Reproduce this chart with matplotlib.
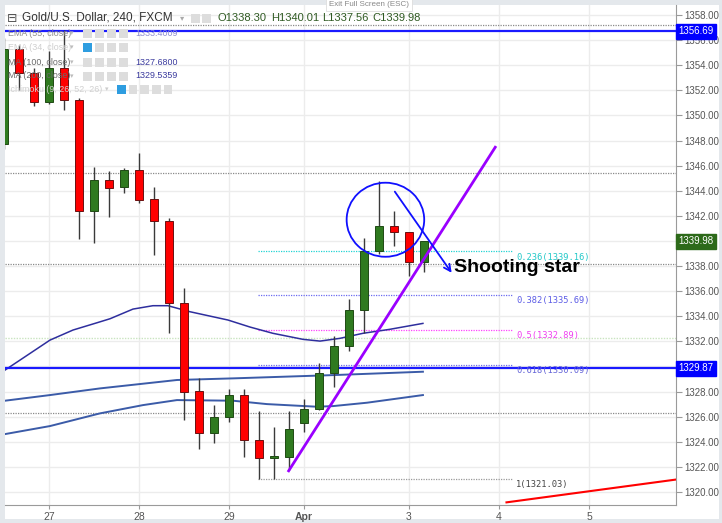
import matplotlib
matplotlib.use('Agg')
import matplotlib.pyplot as plt
from matplotlib.patches import Ellipse, Rectangle
from matplotlib.ticker import FuncFormatter

plt.rcParams['font.family'] = ['Liberation Sans', 'DejaVu Sans']

# candles (4h bars), x = bar index
bars = list(range(-3, 26))
opens = [1347.72, 1355.27, 1353.40, 1351.04, 1353.75, 1351.23, 1342.38, 1344.83, 1344.27, 1345.65,
         1343.31, 1341.59, 1335.08, 1328.04, 1324.67, 1326.00, 1327.75, 1324.13, 1322.73, 1322.80,
         1325.51, 1326.61, 1329.45, 1331.65, 1334.49, 1339.20, 1341.19, 1340.71, 1338.30]
highs = [1356.20, 1355.60, 1353.80, 1355.13, 1356.80, 1351.35, 1345.91, 1345.57, 1345.78, 1346.98,
         1344.27, 1341.80, 1336.22, 1329.05, 1326.92, 1328.18, 1328.18, 1326.45, 1325.20, 1326.45,
         1327.40, 1330.25, 1332.42, 1335.35, 1340.21, 1344.80, 1342.41, 1340.75, 1340.01]
lows = [1347.30, 1352.02, 1350.77, 1350.95, 1350.43, 1340.15, 1339.83, 1341.93, 1343.79, 1343.04,
        1338.88, 1332.64, 1325.73, 1323.39, 1323.92, 1325.59, 1322.80, 1321.05, 1321.03, 1321.74,
        1324.80, 1326.50, 1328.38, 1331.25, 1332.64, 1338.93, 1339.62, 1337.23, 1337.56]
closes = [1355.29, 1353.35, 1351.09, 1353.75, 1351.20, 1342.38, 1344.83, 1344.24, 1345.65, 1343.26,
          1341.61, 1335.08, 1327.96, 1324.67, 1326.00, 1327.75, 1324.13, 1322.73, 1322.80, 1325.04,
          1326.61, 1329.45, 1331.63, 1334.49, 1339.22, 1341.19, 1340.71, 1338.29, 1339.98]

# moving averages
ema55_x = [-2.93, 0.07, 1.6, 3.2, 4.07, 5.6, 6.93, 7.93, 9.4, 10.93, 11.93, 13.4, 14.93, 16.93, 18.07, 19.4, 20.93, 22.73, 24.93]
ema55_y = [1329.71, 1332.10, 1332.90, 1333.48, 1333.80, 1334.57, 1334.84, 1334.84, 1334.36, 1333.96,
           1333.70, 1333.14, 1332.64, 1332.16, 1332.02, 1332.24, 1332.64, 1332.96, 1333.43]
ma200_x = [-2.93, 0.07, 3.4, 8.53, 12.27, 18.93, 24.93]
ma200_y = [1327.27, 1327.72, 1328.25, 1328.92, 1329.05, 1329.31, 1329.58]
ma100_x = [-2.93, 0.07, 3.4, 6.27, 8.53, 12.27, 14.53, 17.87, 18.93, 21.2, 24.93]
ma100_y = [1324.61, 1325.25, 1326.26, 1326.92, 1327.32, 1327.27, 1327.00, 1326.79, 1326.84, 1327.11, 1327.72]

# horizontal levels
blue_levels = [1356.69, 1329.87]
grey_dotted = [1357.24, 1345.44, 1338.14, 1326.26]
green_dotted = [1332.24]
fib_ratios = ['0.236', '0.382', '0.5', '0.618', '1']
fib_prices = [1339.16, 1335.69, 1332.89, 1330.09, 1321.03]
fib_colors = ['#22d4d4', '#6a6af0', '#ff44ff', '#6a6af0', '#9a9a9a']
fib_text_colors = ['#22c8c8', '#5c5ce6', '#f040f0', '#6464d8', '#444444']
fib_start, fib_end = 13.93, 30.87

# drawings
trend_x = [15.93, 29.8]
trend_y = [1321.59, 1347.56]
red_x = [30.5, 42.5]
red_y = [1319.17, 1321.10]
circle_center = (22.43, 1341.69)
arrow_from = (22.95, 1344.11)
arrow_to = (26.95, 1337.28)

tick_pos = [0, 6, 12, 17, 24, 30, 36]
tick_labels = ['27', '28', '29', 'Apr', '3', '4', '5']
price_ticks = list(range(1320, 1359, 2))
hidden_ticks = [1330, 1340]   # covered by the price boxes

W, H = 722, 523
fig = plt.figure(figsize=(W / 100, H / 100), dpi=100, facecolor='#e4e8ec')


def fx(x):
    return x / W


def fy(y):
    return 1 - y / H


fig.patches.append(Rectangle((fx(5), fy(519)), fx(714), 514 / H, transform=fig.transFigure,
                             facecolor='white', edgecolor='none', zorder=-5))

ax = fig.add_axes([fx(5), fy(505), fx(671), 500 / H])
ax.set_facecolor('white')
ax.set_xlim(-2.93, 41.8)
ax.set_ylim(1318.96, 1358.80)

for s in ['top', 'left']:
    ax.spines[s].set_visible(False)
for s in ['right', 'bottom']:
    ax.spines[s].set_color('#9a9a9a')

ax.yaxis.tick_right()
ax.set_yticks(price_ticks)
ax.yaxis.set_major_formatter(FuncFormatter(lambda v, p: '' if round(v) in hidden_ticks else '%.2f' % v))
ax.tick_params(axis='y', labelsize=7, colors='#9a9a9a', labelcolor='#555555', length=4, pad=2)
ax.set_xticks(tick_pos)
ax.set_xticklabels(tick_labels)
ax.tick_params(axis='x', labelsize=7.5, colors='#9a9a9a', labelcolor='#555555', length=3, pad=2)
ax.get_xticklabels()[3].set_fontweight('bold')
ax.grid(True, color='#ececec', lw=1)
ax.set_axisbelow(True)

for lv in grey_dotted:
    ax.axhline(lv, color='#8a8a8a', lw=0.9, ls=(0, (1, 1)), zorder=1)
for lv in green_dotted:
    ax.axhline(lv, color='#c9e4c0', lw=1, ls=(0, (1, 1)), zorder=1)

for r, p, c, tc in zip(fib_ratios, fib_prices, fib_colors, fib_text_colors):
    ax.plot([fib_start, fib_end], [p, p], color=c, lw=0.9, ls=(0, (1, 1)), zorder=1)
    ax.annotate('%s(%.2f)' % (r, p), (fib_end, p), xytext=(3, -4), textcoords='offset points',
                fontsize=6.3, family='DejaVu Sans Mono', color=tc, va='center', ha='left')

ax.plot(ema55_x, ema55_y, color='#2e2e9e', lw=1.1, zorder=2)
ax.plot(ma200_x, ma200_y, color='#3b5ba8', lw=1.4, zorder=2)
ax.plot(ma100_x, ma100_y, color='#3b5ba8', lw=1.4, zorder=2)

for lv in blue_levels:
    ax.axhline(lv, color='#1a1aff', lw=1.6, zorder=2)

# candles
for i, o, h, l, c in zip(bars, opens, highs, lows, closes):
    up = c >= o
    ax.vlines(i, l, h, color='#3a3a3a', lw=1, zorder=3)
    body = max(abs(c - o), 0.12)
    ax.bar(i, body, bottom=min(o, c), width=0.57,
           color='#2f7a1f' if up else '#ff0000',
           edgecolor='#1f4a14' if up else '#6a1010', lw=0.7, zorder=4)

ax.plot(trend_x, trend_y, color='#9a00ff', lw=2, zorder=5, solid_capstyle='butt')
ax.plot(red_x, red_y, color='#ff0000', lw=1.5, zorder=5, clip_on=True)
ax.add_patch(Ellipse(circle_center, 5.17, 5.9, fill=False, edgecolor='#1010ff', lw=1.3, zorder=5))
ax.annotate('', xy=arrow_to, xytext=arrow_from,
            arrowprops=dict(arrowstyle='->', color='#1010ff', lw=1.3, mutation_scale=12), zorder=5)
ax.text(27.0, 1337.55, 'Shooting star', fontsize=14, fontweight='bold', color='black',
        va='baseline', ha='left', zorder=6)

# price boxes on the right axis
for p, txt, bg in [(1356.69, '1356.69', '#0000ff'), (1339.98, '1339.98', '#2d6a1a'), (1329.87, '1329.87', '#0000ff')]:
    ax.annotate(txt, (1, p), xycoords=('axes fraction', 'data'), xytext=(1.5, 0),
                textcoords='offset points', fontsize=7, color='white', va='center', ha='left',
                bbox=dict(boxstyle='square,pad=0.25', facecolor=bg, edgecolor=bg), zorder=10,
                annotation_clip=False)


# header and indicator legend
def icons(x0, y0, n, first_blue=False, step=11.7):
    for k in range(n):
        col = '#2e9de0' if (first_blue and k == 0) else '#dddddd'
        fig.patches.append(Rectangle((fx(x0 + k * step), fy(y0 + 4.5)), fx(8.5), 9 / H,
                                     transform=fig.transFigure, facecolor=col, edgecolor='none', zorder=3))


fig.text(fx(7), fy(18), '\u229f', fontsize=9, color='#555555', va='center', family=['DejaVu Sans'])
fig.text(fx(22), fy(18), 'Gold/U.S. Dollar, 240, FXCM', fontsize=8.5, color='#333333', va='center')
fig.text(fx(180), fy(18), '\u25be', fontsize=6, color='#aaaaaa', va='center', family=['DejaVu Sans'])
icons(191, 18, 2, step=11)
for x0, t in zip([218, 271, 322, 372], ['O1338.30', 'H1340.01', 'L1337.56', 'C1339.98']):
    fig.text(fx(x0), fy(18), t, fontsize=8, color='#2f5a22', va='center')

legend_rows = [('EMA (55, close)', 33, '#8a8a8a', '1333.4009', '#8d8dd0', False),
               ('EMA (34, close)', 47, '#cfcfcf', '', '', True),
               ('MA (100, close)', 62, '#6a6a6a', '1327.6800', '#3b3b9e', False),
               ('MA (200, close)', 76, '#6a6a6a', '1329.5359', '#3b3b9e', False)]
for name, y, col, val, vcol, blue in legend_rows:
    fig.text(fx(8), fy(y), name, fontsize=6.4, color=col, va='center')
    fig.text(fx(70), fy(y), '\u25be', fontsize=5, color='#bbbbbb', va='center', family=['DejaVu Sans'])
    icons(83, y, 4, first_blue=blue, step=12)
    if val:
        fig.text(fx(135), fy(y), val, fontsize=6.4, color=vcol, va='center')
fig.text(fx(8), fy(89), 'Ichimoku (9, 26, 52, 26)', fontsize=6.4, color='#d0d0d0', va='center')
fig.text(fx(105), fy(89), '\u25be', fontsize=5, color='#cccccc', va='center', family=['DejaVu Sans'])
icons(117, 89, 5, first_blue=True, step=11.7)

fig.text(fx(369), fy(5), 'Exit Full Screen (ESC)', fontsize=5.8, color='#888888', va='center', ha='center',
         bbox=dict(boxstyle='square,pad=0.35', facecolor='white', edgecolor='#dddddd', lw=0.6))

fig.savefig('out.png', dpi=100, facecolor=fig.get_facecolor())
